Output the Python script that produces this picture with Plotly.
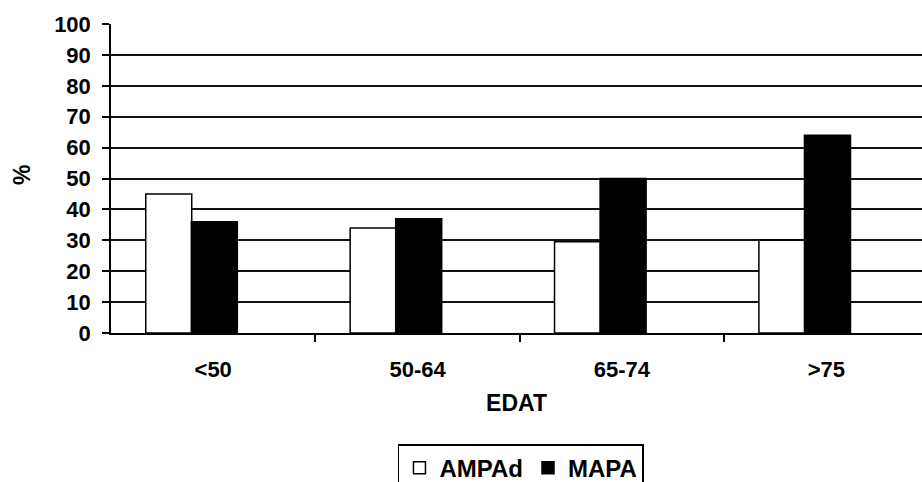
import plotly.graph_objects as go

categories = ["<50", "50-64", "65-74", ">75"]
ampad = [45, 34, 29.5, 30]
mapa = [36, 37, 50, 64]
y_ticks = list(range(0, 101, 10))

FONT = "Liberation Sans, Arial, sans-serif"
xpos = list(range(len(categories)))
xr = [-0.5, 3.468]
BW = 0.225

fig = go.Figure()
fig.add_trace(go.Bar(x=xpos, y=ampad, name="AMPAd", width=BW, offset=-0.330,
                     marker=dict(color="white", line=dict(color="black", width=1.5))))
fig.add_trace(go.Bar(x=xpos, y=mapa, name="MAPA", width=BW, offset=-0.107,
                     marker=dict(color="black", line=dict(color="black", width=1.5))))
# invisible trace to carry the boundary tick axis
fig.add_trace(go.Scatter(x=[xr[0]], y=[0], xaxis="x2", mode="markers",
                         marker=dict(opacity=0), showlegend=False, hoverinfo="skip"))

fig.update_layout(
    width=922, height=482,
    margin=dict(l=111, r=0, t=24, b=149, autoexpand=False),
    paper_bgcolor="white", plot_bgcolor="white",
    barmode="overlay",
    font=dict(family=FONT, size=22, color="black", weight="bold"),
    xaxis=dict(range=xr, tickvals=xpos, ticktext=categories, ticks="",
               showgrid=False, zeroline=False, showline=True, linecolor="black",
               linewidth=1.5, ticklabelstandoff=16, automargin=False,
               title=dict(text="EDAT", standoff=14, font=dict(size=23))),
    xaxis2=dict(range=xr, overlaying="x", anchor="y", side="bottom",
                tickvals=[0.5, 1.5, 2.5], ticks="outside", ticklen=8,
                tickcolor="black", tickwidth=1.5, showticklabels=False,
                showgrid=False, zeroline=False, showline=False, automargin=False),
    yaxis=dict(range=[0, 100], tickvals=y_ticks, ticks="outside", ticklen=7,
               tickcolor="black", tickwidth=1.5, ticklabelstandoff=7,
               showgrid=True, gridcolor="#111", gridwidth=1.5, automargin=False,
               zeroline=False, showline=True, linecolor="black", linewidth=1.5),
    annotations=[dict(text="%", xref="paper", yref="paper", x=-0.109, y=0.51,
                      xanchor="center", yanchor="middle", textangle=-90,
                      showarrow=False, font=dict(size=23))],
    legend=dict(orientation="h", x=0.5055, xanchor="center", y=-0.36, yanchor="top",
                bordercolor="black", borderwidth=1.5, bgcolor="white",
                font=dict(size=24), itemwidth=30, tracegroupgap=0),
    showlegend=True,
)

fig.write_html("out.html")
